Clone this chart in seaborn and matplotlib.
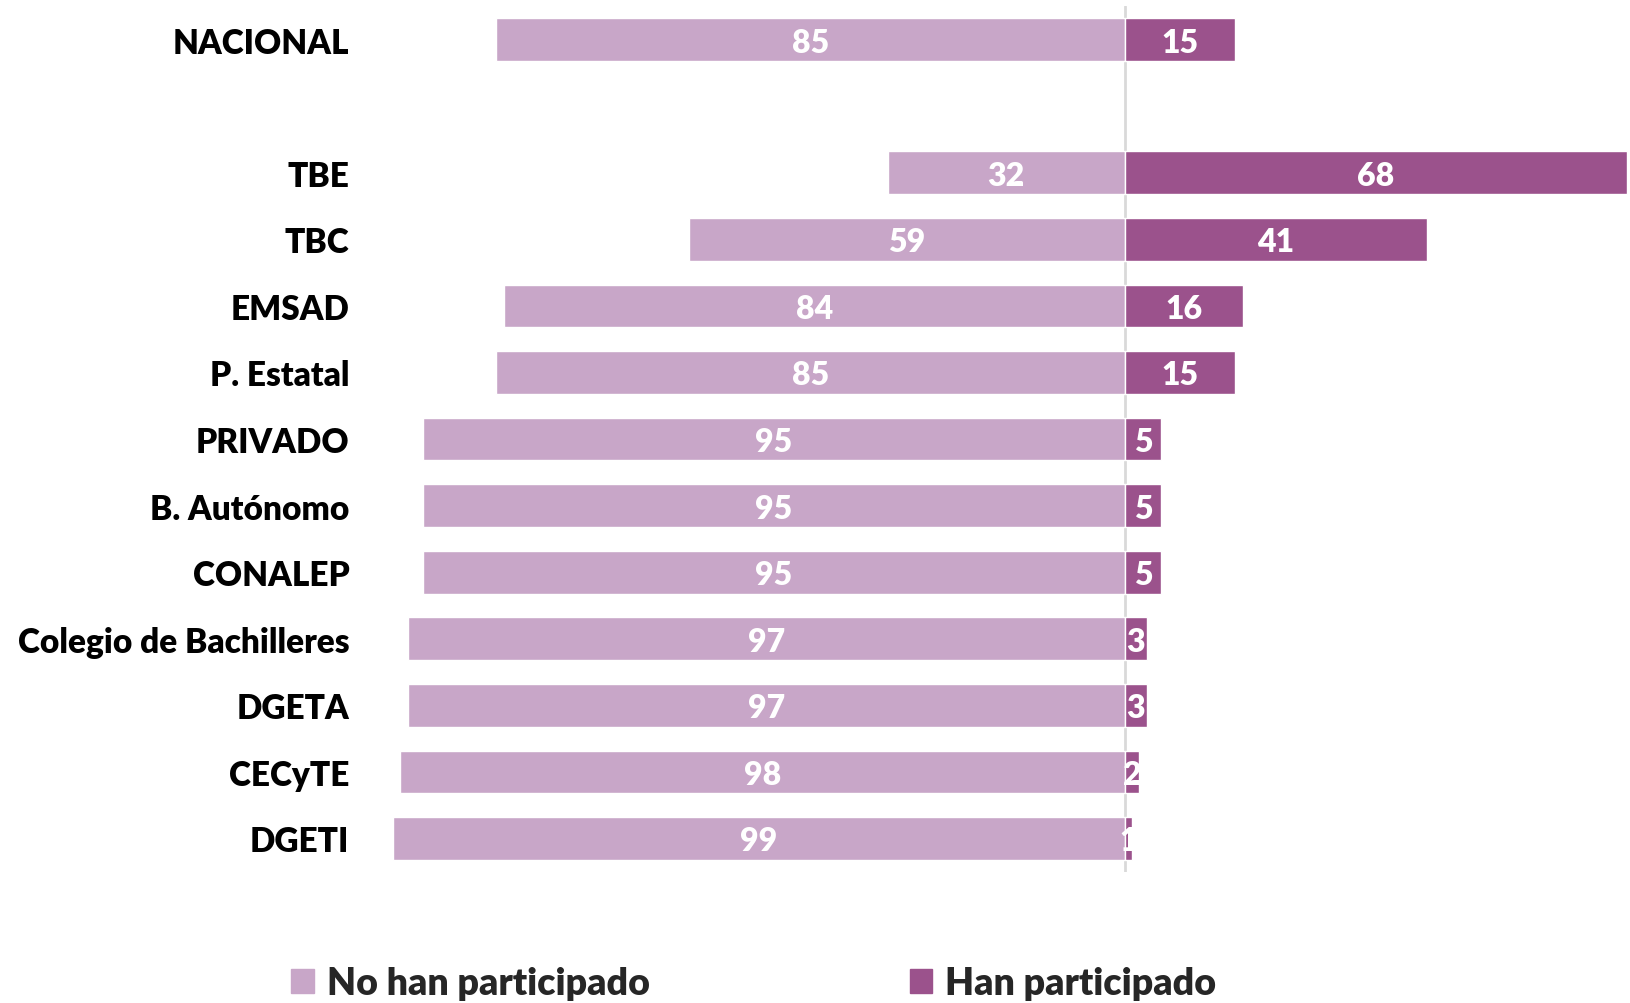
import numpy as np
import pandas as pd
import matplotlib
matplotlib.use("Agg")
import matplotlib.pyplot as plt
import matplotlib.patches as mpatches
import seaborn as sns

categories = ["NACIONAL", "", "TBE", "TBC", "EMSAD", "P. Estatal", "PRIVADO",
              "B. Autónomo", "CONALEP", "Colegio de Bachilleres", "DGETA",
              "CECyTE", "DGETI"]
no_participado = [85, np.nan, 32, 59, 84, 85, 95, 95, 95, 97, 97, 98, 99]
si_participado = [15, np.nan, 68, 41, 16, 15, 5, 5, 5, 3, 3, 2, 1]

color_no = "#C8A6C8"
color_si = "#9B528C"

sns.set_theme(style="white")
plt.rcParams["font.family"] = ["Lato", "DejaVu Sans"]

df = pd.DataFrame({
    "categoria": categories,
    "no": -np.array(no_participado),
    "si": np.array(si_participado),
})

fig = plt.figure(figsize=(16.31, 10.04), dpi=100)
ax = fig.add_axes([0.2364, 0.1307, 0.7634, 0.862])

sns.barplot(data=df, y="categoria", x="no", order=categories, color=color_no,
            width=0.64, saturation=1, ax=ax, orient="h")
sns.barplot(data=df, y="categoria", x="si", order=categories, color=color_si,
            width=0.64, saturation=1, ax=ax, orient="h")

# value labels
valid_no = [f"{v:.0f}" for v in no_participado if not np.isnan(v)]
valid_si = [f"{v:.0f}" for v in si_participado if not np.isnan(v)]
for cont, labels in [(ax.containers[0], valid_no), (ax.containers[1], valid_si)]:
    texts = ax.bar_label(cont, labels=labels, label_type="center",
                         color="white", fontsize=23, fontweight="heavy")
    for t in texts:
        t.set_va("center_baseline")

ax.axvline(0, color="#D9D9D9", lw=2, zorder=0.5)

ax.set_xlim(-100, 68.5)
ax.set_ylim(12.5, -0.5)
ax.set_xlabel("")
ax.set_ylabel("")
ax.set_xticks([])
ax.tick_params(axis="y", length=0, pad=26, labelsize=24)
for lbl in ax.get_yticklabels():
    lbl.set_fontweight("heavy")
    lbl.set_color("black")
sns.despine(ax=ax, left=True, bottom=True)

# legend
h_no = mpatches.Patch(color=color_no, label="No han participado")
h_si = mpatches.Patch(color=color_si, label="Han participado")
for h, x in [(h_no, 0.158), (h_si, 0.537)]:
    fig.legend(handles=[h], loc="center left", bbox_to_anchor=(x, 0.02),
               frameon=False, handlelength=0.6, handleheight=0.6,
               handletextpad=0.35, prop={"weight": "heavy", "size": 27})

fig.savefig("out.png", dpi=100)
